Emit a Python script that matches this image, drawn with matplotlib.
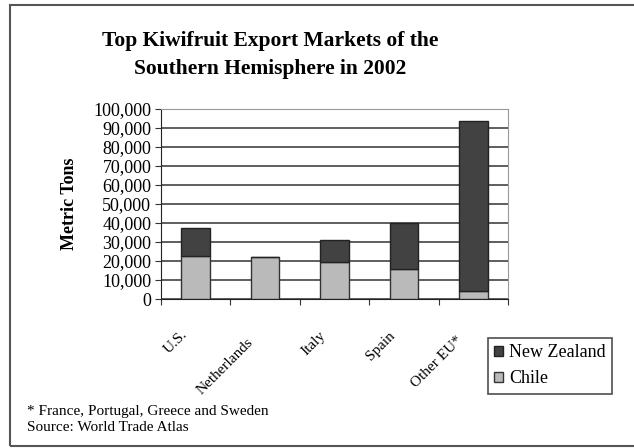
import numpy as np
import matplotlib.pyplot as plt
from matplotlib.patches import Rectangle

# данные
markets = ['U.S.', 'Netherlands', 'Italy', 'Spain', 'Other EU*']
chile = [22600, 22100, 19500, 15800, 4200]
new_zealand = [14800, 0, 11500, 24400, 89500]
yticks = np.arange(0, 100001, 10000)

plt.rcParams['font.family'] = ['Liberation Serif', 'DejaVu Serif']

fig = plt.figure(figsize=(6.34, 4.48), dpi=100)

# рамка вокруг всей диаграммы
fig.patches.append(Rectangle((10/634, 2/448), 640/634, 441/448, transform=fig.transFigure,
                             fill=False, edgecolor='#555555', linewidth=1.5))

ax = fig.add_axes([161/634, 149/448, 347/634, 190/448])
x = np.arange(len(markets))
w = 0.41
ax.bar(x, chile, w, color='#bababa', edgecolor='#333333', linewidth=1, label='Chile', zorder=3)
ax.bar(x, new_zealand, w, bottom=chile, color='#424242', edgecolor='#222222', linewidth=1,
       label='New Zealand', zorder=3)

ax.set_xlim(-0.5, len(markets) - 0.5)
ax.set_ylim(0, 100000)
ax.set_yticks(yticks)
ax.set_yticklabels([f'{v:,}' for v in yticks], fontsize=13)
ax.yaxis.grid(True, color='#333333', linewidth=1.1)
ax.set_axisbelow(True)

ax.set_xticks(np.arange(len(markets) + 1) - 0.5, minor=False)
ax.set_xticklabels([])
ax.tick_params(axis='x', length=4, direction='out', color='#333333')
ax.tick_params(axis='y', length=4, direction='out', color='#333333', pad=3)
# подписи категорий под углом 45°
for i, m in enumerate(markets):
    ax.text(i - 0.18 - 0.008 * len(m), -0.13 - 0.006 * len(m), m, transform=ax.get_xaxis_transform(),
            rotation=45, ha='right', va='top', rotation_mode='anchor', fontsize=11)

for s in ['top', 'right']:
    ax.spines[s].set_color('#999999')
for s in ['left', 'bottom']:
    ax.spines[s].set_color('#222222')

ax.set_ylabel('Metric Tons', fontsize=13, fontweight='bold', labelpad=11)

fig.text(270/634, 1 - 55/448, 'Top Kiwifruit Export Markets of the\nSouthern Hemisphere in 2002',
         ha='center', va='center', fontsize=15.5, fontweight='bold', linespacing=1.5)

h, l = ax.get_legend_handles_labels()
leg = fig.legend(h[::-1], l[::-1], loc='upper left', bbox_to_anchor=(488/634, 1 - 338/448),
                 fontsize=13, frameon=True, fancybox=False, edgecolor='#222222',
                 handlelength=0.5, handleheight=0.5, handletextpad=0.3, borderpad=0.35,
                 labelspacing=0.5, borderaxespad=0)
leg.get_frame().set_linewidth(1.2)

fig.text(27/634, 1 - 411/448, '* France, Portugal, Greece and Sweden', fontsize=11, va='center')
fig.text(27/634, 1 - 427/448, 'Source: World Trade Atlas', fontsize=11, va='center')

fig.savefig('out.png', dpi=100)
